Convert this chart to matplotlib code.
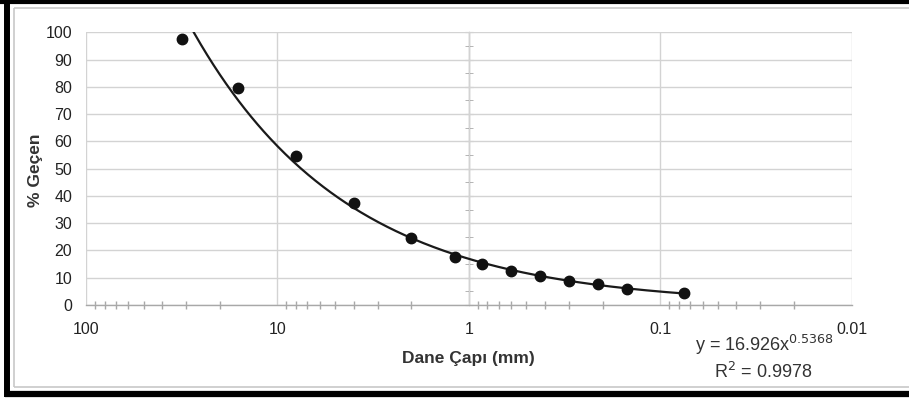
import numpy as np
import matplotlib
matplotlib.use("Agg")
import matplotlib.pyplot as plt
from matplotlib.lines import Line2D
from matplotlib.ticker import FixedLocator, NullFormatter, LogLocator

plt.rcParams['font.family'] = ['Liberation Sans', 'DejaVu Sans']

# Data
sizes_mm = [31.5, 16, 8, 4, 2, 1.18, 0.85, 0.6, 0.425, 0.3, 0.212, 0.15, 0.075]
passing = [97.4, 79.6, 54.6, 37.5, 24.5, 17.6, 15.0, 12.5, 10.5, 8.9, 7.6, 5.8, 4.4]
fit_a = 16.926
fit_b = 0.5368
r2 = 0.9978
x_ticks = [100, 10, 1, 0.1, 0.01]
x_ticklabels = ["100", "10", "1", "0.1", "0.01"]
y_ticks = [0, 10, 20, 30, 40, 50, 60, 70, 80, 90, 100]

W, H = 909, 398
fig = plt.figure(figsize=(W / 100, H / 100), dpi=100)

L, R, T, B = 86, 851.7, 32.3, 305
ax = fig.add_axes([L / W, 1 - B / H, (R - L) / W, (B - T) / H])
ax.set_xscale('log')
ax.set_xlim(100, 0.01)
ax.set_ylim(0, 100)

grid_c = '#d3d3d3'
ax.set_xticks(x_ticks)
ax.set_xticklabels(x_ticklabels)
ax.xaxis.set_minor_locator(LogLocator(base=10, subs=np.arange(2, 10)))
ax.xaxis.set_minor_formatter(NullFormatter())
ax.set_yticks(y_ticks)
ax.grid(True, which='major', color=grid_c, linewidth=1.0)
ax.set_axisbelow(True)
for s in ['top', 'right', 'left']:
    ax.spines[s].set_visible(False)
ax.spines['bottom'].set_color('#a8a8a8')
ax.spines['bottom'].set_linewidth(1.0)
ax.tick_params(axis='x', which='major', length=0, pad=12, labelsize=11.5, colors='#222222')
ax.tick_params(axis='x', which='minor', direction='inout', length=6, color='#a8a8a8', width=1)
ax.tick_params(axis='y', which='both', length=0, pad=10, labelsize=11.5, colors='#222222')

# vertical axis crossing at x = 1 (center of the log range)
sec = ax.secondary_yaxis(0.5)
sec.spines['left'].set_color('#a8a8a8')
sec.set_yticks(y_ticks)
sec.yaxis.set_minor_locator(FixedLocator(np.arange(5, 100, 10)))
sec.tick_params(which='both', direction='inout', length=6, color='#a8a8a8', labelleft=False)
sec.yaxis.set_minor_formatter(NullFormatter())
sec.set_yticklabels([])

# trendline
xs = np.logspace(np.log10(max(sizes_mm)), np.log10(min(sizes_mm)), 400)
ax.plot(xs, fit_a * xs ** fit_b, color='#1a1a1a', linewidth=1.6, zorder=3)
ax.plot(sizes_mm, passing, 'o', color='#111111', markersize=7.5, zorder=4)

ax.set_xlabel('Dane Çapı (mm)', fontsize=12.5, fontweight='bold', color='#333333')
ax.xaxis.set_label_coords(0.5, -(358 - B) / (B - T))
ax.xaxis.label.set_va('center')
ax.set_ylabel('% Geçen', fontsize=12.5, fontweight='bold', color='#333333')
ax.yaxis.set_label_coords(-(L - 35) / (R - L), (B - 170) / (B - T))
ax.yaxis.label.set_va('center')

fig.text(765 / W, 1 - 345 / H, f'y = {fit_a}x$^{{{fit_b}}}$', ha='center', va='center',
         fontsize=13, color='#333333')
fig.text(763 / W, 1 - 372 / H, f'R$^2$ = {r2}', ha='center', va='center',
         fontsize=13, color='#333333')

# borders
def fl(x0, y0, x1, y1, c, lw):
    fig.add_artist(Line2D([x0 / W, x1 / W], [1 - y0 / H, 1 - y1 / H], color=c,
                          linewidth=lw, transform=fig.transFigure, solid_capstyle='butt'))

fl(0, 1.5, W, 1.5, 'black', 3.0)
fl(7.5, 0, 7.5, 397, 'black', 4.3)
fl(5, 394, W, 394, 'black', 4.5)
fl(14, 8, W, 8, '#c8c8c8', 1.2)
fl(14, 8, 14, 386.5, '#c8c8c8', 1.2)
fl(14, 386.5, W, 386.5, '#c8c8c8', 1.2)

fig.savefig('out.png', dpi=100)
